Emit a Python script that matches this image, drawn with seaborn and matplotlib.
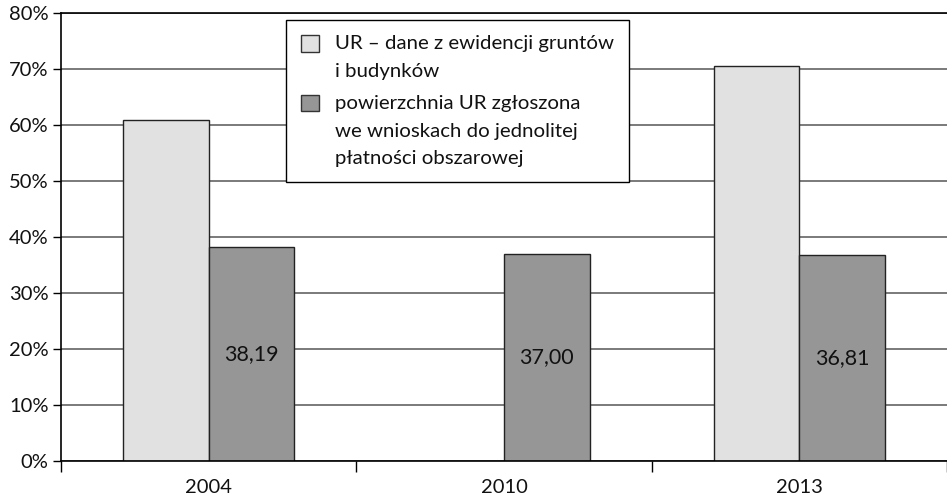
import matplotlib
matplotlib.use("Agg")
import matplotlib.pyplot as plt
import matplotlib.patches as mpatches
from matplotlib.ticker import FixedLocator, FuncFormatter
import seaborn as sns
import pandas as pd
import numpy as np

years = ["2004", "2010", "2013"]
series_names = [
    "UR – dane z ewidencji gruntów\ni budynków",
    "powierzchnia UR zgłoszona\nwe wnioskach do jednolitej\npłatności obszarowej",
]
ewidencja = [60.9, np.nan, 70.5]
wnioski = [38.19, 37.00, 36.81]
labels_wnioski = ["38,19", "37,00", "36,81"]
colors = ["#e1e1e1", "#969696"]

sns.set_theme(style="white")
plt.rcParams["font.family"] = ["Lato", "DejaVu Sans"]

df = pd.DataFrame({
    "rok": years * 2,
    "seria": [series_names[0]] * 3 + [series_names[1]] * 3,
    "wartosc": ewidencja + wnioski,
})

fig = plt.figure(figsize=(9.47, 4.99), dpi=100)
ax = fig.add_axes([61 / 947, (499 - 461) / 499, (947 - 61) / 947, 448 / 499])

sns.barplot(data=df, x="rok", y="wartosc", hue="seria", order=years,
            hue_order=series_names, palette=colors, width=0.58,
            edgecolor="#222222", linewidth=1.0, saturation=1, ax=ax,
            legend=False)

ax.set_xlim(-0.5, 2.5)
ax.set_ylim(0, 80)
ax.set_yticks(range(0, 81, 10))
ax.yaxis.set_major_formatter(FuncFormatter(lambda v, p: f"{int(v)}%"))
ax.grid(axis="y", color="#7a7a7a", linewidth=1.4)
ax.set_axisbelow(True)
ax.set_xlabel("")
ax.set_ylabel("")

for s in ["left", "bottom", "top"]:
    ax.spines[s].set_visible(True)
    ax.spines[s].set_color("black")
    ax.spines[s].set_linewidth(1.2)
ax.spines["right"].set_visible(False)

ax.tick_params(axis="y", which="major", left=True, length=6, width=1,
               color="black", labelsize=14.5, pad=3, labelcolor="#111111")
ax.tick_params(axis="x", which="major", bottom=False, length=0, labelsize=14.5,
               pad=13, labelcolor="#111111")
ax.xaxis.set_minor_locator(FixedLocator([-0.5, 0.5, 1.5, 2.5]))
ax.tick_params(axis="x", which="minor", bottom=True, length=8, width=1, color="black")

# data labels on dark bars
dark = ax.containers[1]
for bar, lab in zip(dark, labels_wnioski):
    ax.text(bar.get_x() + bar.get_width() / 2, bar.get_height() / 2, lab,
            ha="center", va="center", fontsize=15.5, color="#111111")

handles = [mpatches.Patch(facecolor=c, edgecolor="#333333", linewidth=1) for c in colors]
leg = ax.legend(handles, series_names, loc="upper left",
                bbox_to_anchor=((286 - 61) / 886, (461 - 20) / 448),
                fontsize=14.7, frameon=True, fancybox=False, framealpha=1,
                edgecolor="black", handlelength=0.85, handleheight=0.85,
                handletextpad=0.8, borderpad=0.75, labelspacing=0.75,
                borderaxespad=0)
leg.get_frame().set_linewidth(1.0)
for t in leg.get_texts():
    t.set_color("#111111")
    t.set_linespacing(1.75)
for col in leg._legend_handle_box.get_children():
    for entry in col.get_children():
        entry.align = "top"

fig.savefig("out.png", dpi=100)
